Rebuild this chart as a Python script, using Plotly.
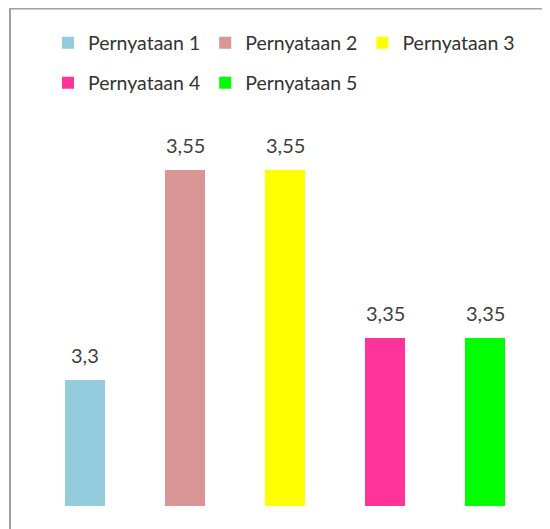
import plotly.graph_objects as go

categories = ["Pernyataan 1", "Pernyataan 2", "Pernyataan 3", "Pernyataan 4", "Pernyataan 5"]
values = [3.3, 3.55, 3.55, 3.35, 3.35]
labels = ["3,3", "3,55", "3,55", "3,35", "3,35"]
colors = ["#93CDDD", "#D99694", "#FFFF00", "#FF3399", "#00FF00"]

# the page body adds an 8px margin, so the figure is sized/offset accordingly
W, H = 542, 521
ML, MR, MT, MB = 27, 15, 120, 23
plot_w = W - ML - MR
plot_h = H - MT - MB

fig = go.Figure()
for i, (c, v, col) in enumerate(zip(categories, values, colors)):
    fig.add_trace(go.Bar(
        x=[c], y=[v], name=c, width=0.4,
        marker=dict(color=col, line=dict(width=0)),
        legend="legend" if i < 3 else "legend2",
        showlegend=True,
    ))

for c, v, t in zip(categories, values, labels):
    fig.add_annotation(x=c, y=v, text=t, showarrow=False, xanchor="center",
                       yanchor="bottom", yshift=11,
                       font=dict(family="Lato", size=20, color="#404040"))

def px_x(p):
    return (p - ML) / plot_w

def px_y(p):
    return (H - MB - p) / plot_h

fig.add_shape(type="rect", xref="paper", yref="paper",
              x0=px_x(2), x1=1.2, y0=-0.3, y1=px_y(0.5),
              line=dict(color="#A0A0A0", width=2), fillcolor="rgba(0,0,0,0)", layer="below")

legend_font = dict(family="Lato", size=19.5, color="#333333")
common = dict(orientation="h", xanchor="left", yanchor="middle",
              font=legend_font, bgcolor="rgba(0,0,0,0)", borderwidth=0)
fig.update_layout(
    width=W, height=H,
    margin=dict(l=ML, r=MR, t=MT, b=MB, pad=0),
    paper_bgcolor="white", plot_bgcolor="white",
    barmode="overlay",
    xaxis=dict(range=[-0.5, 4.5], visible=False, showgrid=False),
    yaxis=dict(range=[3.15, 3.6], visible=False, showgrid=False),
    legend=dict(x=px_x(40), y=px_y(35), **common),
    legend2=dict(x=px_x(40), y=px_y(75), **common),
    showlegend=True,
)

fig.write_html("out.html")
